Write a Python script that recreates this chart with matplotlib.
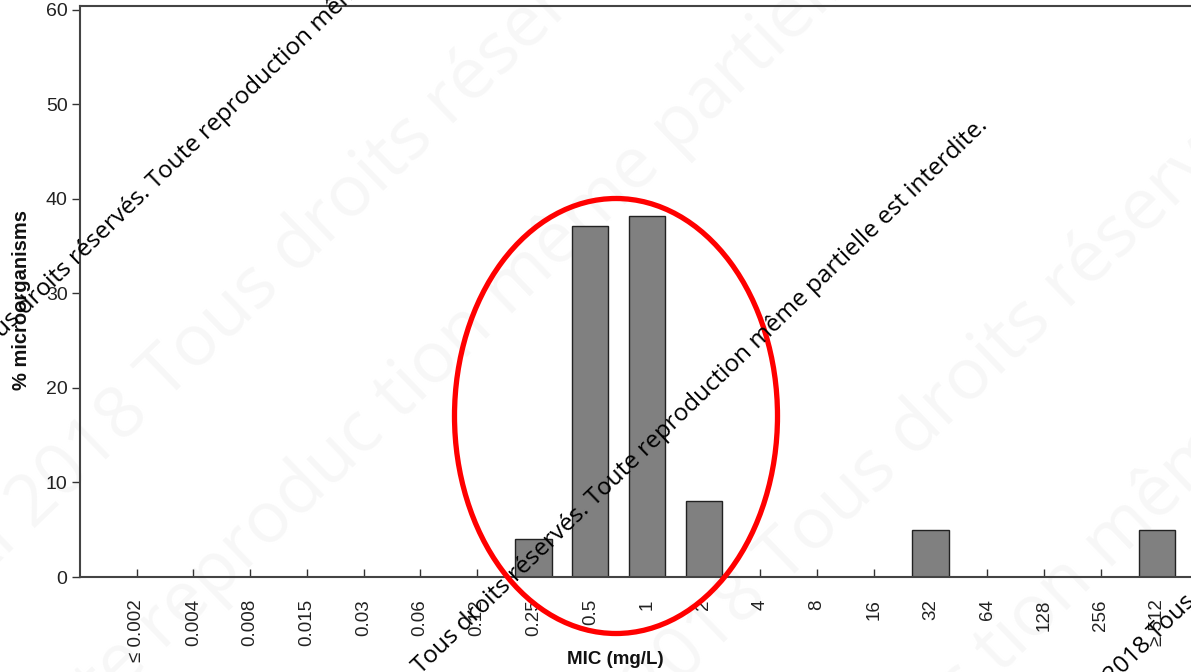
import numpy as np
import matplotlib
matplotlib.use('Agg')
import matplotlib.pyplot as plt
from matplotlib.patches import Ellipse

# MIC distribution (% of microorganisms per MIC class)
mic_labels = ['≤ 0.002', '0.004', '0.008', '0.015', '0.03', '0.06', '0.12', '0.25', '0.5', '1',
              '2', '4', '8', '16', '32', '64', '128', '256', '≥ 512']
pct = [0, 0, 0, 0, 0, 0, 0, 4.0, 37.1, 38.2, 8.0, 0, 0, 0, 5.0, 0, 0, 0, 5.0]
y_ticks = [0, 10, 20, 30, 40, 50, 60]

wm_text = 'Tous droits réservés. Toute reproduction même partielle est interdite.'

W, H = 1191, 672
fig = plt.figure(figsize=(W / 100, H / 100), dpi=100)

def px(x, y):
    return x / W, 1 - y / H

def wm(x, y, before, after, fs, color, z):
    # text split in two pieces around a known anchor point on the baseline
    kw = dict(rotation=44, rotation_mode='anchor', va='baseline', fontsize=fs,
              color=color, family='Open Sans', zorder=z)
    fig.text(*px(x, y), after, ha='left', **kw)
    if before:
        gap = fs * 1.389 * 0.26 / 1.414
        fig.text(*px(x - gap, y + gap), before, ha='right', **kw)

# very faint background watermark
faint = '#f7f7f7'
wm(165, 402, 'AI 2018', wm_text, 52, faint, -1)
wm(783, 585, 'AI 2018', wm_text, 52, faint, -1)
wm(400, 422, 'Tous droits réservés. Toute reproduc', 'tion même partielle est interdite.', 52, faint, -1)
wm(1000, 675, 'Tous droits réservés. Toute reproduc', 'tion même partielle est interdite.', 52, faint, -1)

ax = fig.add_axes([80 / W, 95 / H, 1134 / W, 571 / H])
ax.set_facecolor('none')
x = np.arange(len(mic_labels))
ax.bar(x, pct, width=0.64, color='#808080', edgecolor='#222222', linewidth=1.0, zorder=2)

ax.set_xlim(-1, len(mic_labels))
ax.set_ylim(0, 60.42)
ax.set_xticks(x)
ax.set_xticklabels(mic_labels, rotation=90, family='Liberation Sans', fontsize=13.5, color='#222222')
ax.set_yticks(y_ticks)
ax.set_yticklabels([str(v) for v in y_ticks], family='Liberation Sans', fontsize=14, color='#222222')
ax.tick_params(axis='x', direction='in', length=6, width=1, color='#333333', pad=16)
ax.tick_params(axis='y', direction='out', length=6, width=1, color='#333333', pad=3)
for s in ax.spines.values():
    s.set_color('#444444')
    s.set_linewidth(1.5)

fig.text(*px(615, 659), 'MIC (mg/L)', ha='center', va='center', fontsize=13.5,
         fontweight='bold', family='Liberation Sans', color='#111111')
fig.text(*px(22, 300), '% microorganisms', ha='center', va='center', rotation=90, fontsize=14.5,
         fontweight='bold', family='Liberation Sans', color='#111111')

# red ellipse highlight
fig.add_artist(Ellipse(px(616, 416), 323 / W, 435 / H, transform=fig.transFigure,
                       fill=False, edgecolor='#ff0000', linewidth=3.8, zorder=5))

# black watermark lines
fs = 17.5
wm(-18, 358, '', wm_text, fs, 'black', 6)
wm(421, 675, '', wm_text, fs, 'black', 6)
wm(1157, 641, 'AI 2018', wm_text, fs, 'black', 6)

fig.savefig('out.png', dpi=100)
